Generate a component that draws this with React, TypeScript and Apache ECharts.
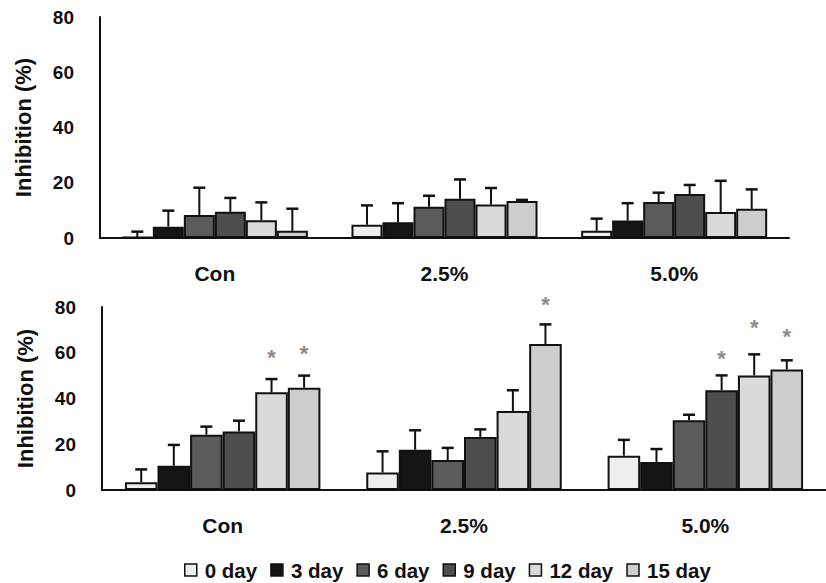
import React, { useEffect, useRef } from "react";
import * as echarts from "echarts";

const categories = ["Con", "2.5%", "5.0%"];
const seriesNames = ["0 day", "3 day", "6 day", "9 day", "12 day", "15 day"];

// Top panel: mean inhibition (%) per series, per category
const top0 = [0.3, 4.8, 2.6];
const top3 = [4.1, 5.7, 6.3];
const top6 = [8.3, 11.3, 13.0];
const top9 = [9.5, 14.2, 15.9];
const top12 = [6.4, 12.1, 9.4];
const top15 = [2.6, 13.4, 10.6];
// Top panel: SD
const topSd0 = [2.0, 7.0, 4.4];
const topSd3 = [5.8, 6.9, 6.3];
const topSd6 = [9.9, 4.0, 3.4];
const topSd9 = [5.0, 7.0, 3.3];
const topSd12 = [6.5, 6.0, 11.3];
const topSd15 = [8.0, 0.4, 7.0];

// Bottom panel: mean
const bot0 = [3.4, 7.7, 15.0];
const bot3 = [10.6, 17.6, 12.2];
const bot6 = [24.2, 13.1, 30.5];
const bot9 = [25.6, 23.2, 43.6];
const bot12 = [42.7, 34.5, 50.1];
const bot15 = [44.7, 63.8, 52.7];
// Bottom panel: SD
const botSd0 = [5.6, 9.2, 6.9];
const botSd3 = [9.1, 8.5, 5.7];
const botSd6 = [3.5, 5.3, 2.4];
const botSd9 = [4.7, 3.3, 6.5];
const botSd12 = [5.8, 9.1, 9.2];
const botSd15 = [5.3, 8.6, 4.0];
// Bottom panel: significance asterisk heights (null = none)
const botStar9 = [null, null, 59.6];
const botStar12 = [60.0, null, 73.4];
const botStar15 = [62.0, 83.4, 69.1];

const topMeans = [top0, top3, top6, top9, top12, top15];
const topSds = [topSd0, topSd3, topSd6, topSd9, topSd12, topSd15];
const botMeans = [bot0, bot3, bot6, bot9, bot12, bot15];
const botSds = [botSd0, botSd3, botSd6, botSd9, botSd12, botSd15];
const botStars = [null, null, null, botStar9, botStar12, botStar15];

const colors = ["#eeeeee", "#151515", "#5b5b5b", "#4e4e4e", "#dadada", "#cdcdcd"];
const FONT = "Liberation Sans, Arial, sans-serif";
const GAP = 0.19;

function buildErr(means: number[][], sds: number[][], stars: (null | (number | null)[])[]) {
  const out: number[][] = [];
  for (let s = 0; s < means.length; s++) {
    for (let c = 0; c < categories.length; c++) {
      const st = stars[s] ? (stars[s] as (number | null)[])[c] : null;
      out.push([c, s, means[s][c], means[s][c] + sds[s][c], st == null ? -1 : st]);
    }
  }
  return out;
}

function renderErr(params: any, api: any) {
  const cat = api.value(0);
  const s = api.value(1);
  const mean = api.value(2);
  const top = api.value(3);
  const star = api.value(4);
  const catW = api.size([1, 0])[0];
  const bw = (catW * (1 - GAP)) / 6;
  const x = api.coord([cat, 0])[0] + (s - 2.5) * bw;
  const yMean = api.coord([cat, mean])[1];
  const yTop = api.coord([cat, top])[1];
  const children: any[] = [
    { type: "line", shape: { x1: x, y1: yMean, x2: x, y2: yTop }, style: { stroke: "#111", lineWidth: 2 } },
    { type: "line", shape: { x1: x - 6, y1: yTop, x2: x + 6, y2: yTop }, style: { stroke: "#111", lineWidth: 2.5 } },
  ];
  if (star > 0) {
    const ys = api.coord([cat, star])[1];
    children.push({
      type: "text",
      x: x,
      y: ys + 5,
      style: { text: "*", fill: "#8a8a8a", font: `bold 22px ${FONT}`, align: "center", verticalAlign: "middle" },
    });
  }
  return { type: "group", children };
}

export default function App() {
  const ref = useRef<HTMLDivElement>(null);
  useEffect(() => {
    if (!ref.current) return;
    const chart = echarts.init(ref.current, undefined, { renderer: "svg" });
    const xAxisBase = {
      type: "category",
      data: categories,
      axisLine: { lineStyle: { color: "#111", width: 2 } },
      axisTick: { show: false },
      axisLabel: { color: "#111", fontFamily: FONT, fontWeight: "bold", fontSize: 21, margin: 25 },
    };
    const yAxisBase = {
      type: "value",
      min: 0,
      max: 80,
      interval: 20,
      name: "Inhibition (%)",
      nameLocation: "middle",
      nameGap: 66,
      nameTextStyle: { color: "#111", fontFamily: FONT, fontWeight: "bold", fontSize: 22 },
      axisLine: { show: true, lineStyle: { color: "#111", width: 2 } },
      axisTick: { show: false },
      splitLine: { show: false },
      axisLabel: { color: "#111", fontFamily: FONT, fontWeight: "bold", fontSize: 19, margin: 26 },
    };
    const series: any[] = [];
    [topMeans, botMeans].forEach((means, g) => {
      means.forEach((m, s) => {
        series.push({
          type: "bar",
          name: seriesNames[s],
          xAxisIndex: g,
          yAxisIndex: g,
          data: m,
          barGap: "0%",
          barCategoryGap: `${GAP * 100}%`,
          itemStyle: { color: colors[s], borderColor: "#111", borderWidth: 2 },
        });
      });
    });
    series.push({
      type: "custom",
      xAxisIndex: 0,
      yAxisIndex: 0,
      renderItem: renderErr,
      encode: { x: 0, y: 3 },
      data: buildErr(topMeans, topSds, [null, null, null, null, null, null]),
      z: 5,
      silent: true,
    });
    series.push({
      type: "custom",
      xAxisIndex: 1,
      yAxisIndex: 1,
      renderItem: renderErr,
      encode: { x: 0, y: 3 },
      data: buildErr(botMeans, botSds, botStars),
      z: 5,
      silent: true,
    });
    chart.setOption({
      animation: false,
      backgroundColor: "#fff",
      grid: [
        { left: 100, top: 17, width: 689, height: 221 },
        { left: 102, top: 307, width: 733, height: 183 },
      ],
      xAxis: [
        { ...xAxisBase, gridIndex: 0 },
        { ...xAxisBase, gridIndex: 1 },
      ],
      yAxis: [
        { ...yAxisBase, gridIndex: 0 },
        { ...yAxisBase, gridIndex: 1 },
      ],
      legend: {
        data: seriesNames,
        left: 184,
        top: 559,
        padding: 0,
        itemWidth: 12,
        itemHeight: 12,
        itemGap: 13,
        icon: "rect",
        itemStyle: { borderColor: "#111", borderWidth: 1.5 },
        textStyle: { color: "#111", fontFamily: FONT, fontWeight: "bold", fontSize: 20.5, lineHeight: 22, padding: [0, 0, 0, 3] },
      },
      series,
    });
    return () => chart.dispose();
  }, []);
  return <div ref={ref} style={{ width: 826, height: 583, position: "absolute", left: 0, top: 0 }} />;
}
